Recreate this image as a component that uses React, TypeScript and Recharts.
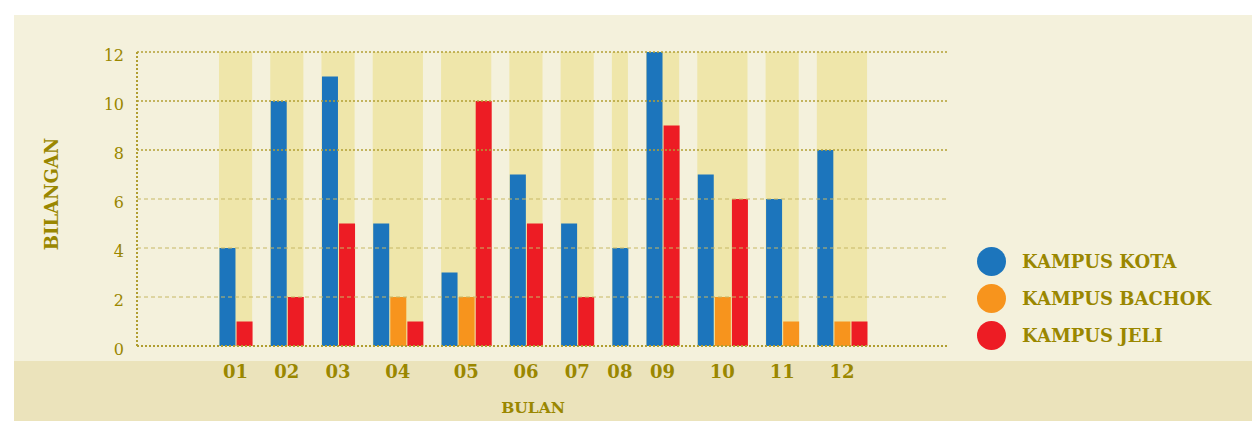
import { BarChart, Bar, XAxis, YAxis, ReferenceArea, ReferenceLine, Legend, Label } from 'recharts'

const months = ['01', '02', '03', '04', '05', '06', '07', '08', '09', '10', '11', '12']
const kampusKota = [4, 10, 11, 5, 3, 7, 5, 4, 12, 7, 6, 8]
const kampusBachok = [0, 0, 0, 2, 2, 0, 0, 0, 0, 2, 1, 1]
const kampusJeli = [1, 2, 5, 1, 10, 5, 2, 0, 9, 6, 0, 1]
const yTicks = [0, 2, 4, 6, 8, 10, 12]

const series = [
  { key: 'kota', name: 'KAMPUS KOTA', color: '#1c75bc', values: kampusKota },
  { key: 'bachok', name: 'KAMPUS BACHOK', color: '#f7941d', values: kampusBachok },
  { key: 'jeli', name: 'KAMPUS JELI', color: '#ed1c24', values: kampusJeli },
]

const TEXT = '#9a8700'
const FONT = '"DejaVu Serif", serif'

// only non-zero bars take a slot; months are separated by one empty slot
const rows: any[] = []
const groups: { label: string; from: number; to: number; mid: number }[] = []
let pos = 0
months.forEach((m, i) => {
  if (i > 0) pos += 1
  const from = pos
  series.forEach((s) => {
    if (s.values[i] > 0) {
      rows.push({ x: pos, [s.key]: s.values[i] })
      pos += 1
    }
  })
  const to = pos - 1
  groups.push({ label: m, from, to, mid: (from + to) / 2 })
})

const tickLabel: { [k: string]: string } = {}
groups.forEach((g) => {
  tickLabel[String(g.mid)] = g.label
})

function LegendBox() {
  return (
    <div style={{ fontFamily: FONT }}>
      {series.map((s) => (
        <div key={s.key} style={{ display: 'flex', alignItems: 'center', height: 37 }}>
          <span
            style={{ width: 29, height: 29, borderRadius: '50%', background: s.color, display: 'inline-block' }}
          />
          <span style={{ marginLeft: 16, color: TEXT, fontWeight: 'bold', fontSize: 18 }}>{s.name}</span>
        </div>
      ))}
    </div>
  )
}

export default function App() {
  return (
    <div style={{ position: 'absolute', left: 0, top: 0, width: 1252, height: 421, background: '#fff' }}>
      <div style={{ position: 'absolute', left: 14, top: 15, width: 1238, height: 346, background: '#f4f1dc' }} />
      <div style={{ position: 'absolute', left: 14, top: 361, width: 1238, height: 60, background: '#ebe3bb' }} />
      <div style={{ position: 'absolute', left: 0, top: 0 }}>
        <BarChart
          width={1252}
          height={421}
          data={rows}
          margin={{ top: 52, right: 45, bottom: 0, left: 0 }}
          barSize={16}
          style={{ fontFamily: FONT }}
        >
          {groups.map((g) => (
            <ReferenceArea
              key={g.label}
              x1={g.from - 0.47}
              x2={g.to + 0.47}
              y1={0}
              y2={12}
              fill="#efe6aa"
              fillOpacity={1}
              stroke="none"
            />
          ))}
          {yTicks.slice(1).map((t) => (
            <ReferenceLine
              key={t}
              y={t}
              stroke={t >= 8 ? '#b3a035' : '#c7b865'}
              strokeWidth={t >= 8 ? 1.5 : 1}
              strokeDasharray={t >= 8 ? '2 2' : '4 3'}
            />
          ))}
          <XAxis
            dataKey="x"
            type="number"
            domain={[-5.27, 42.15]}
            ticks={groups.map((g) => g.mid)}
            tickFormatter={(v) => tickLabel[String(v)]}
            height={75}
            tickSize={0}
            tickMargin={19}
            axisLine={{ stroke: '#b09e30', strokeDasharray: '2 2', strokeWidth: 2 }}
            tick={{ fill: TEXT, fontSize: 18, fontWeight: 'bold' }}
            interval={0}
            allowDataOverflow
          >
            <Label
              value="BULAN"
              position="insideBottom"
              offset={8}
              dx={-9}
              fill={TEXT}
              fontSize={15.5}
              fontWeight="bold"
            />
          </XAxis>
          <YAxis
            domain={[0, 12]}
            ticks={yTicks}
            width={137}
            tickSize={0}
            tickMargin={13}
            axisLine={{ stroke: '#b09e30', strokeDasharray: '2 2', strokeWidth: 2 }}
            tick={{ fill: TEXT, fontSize: 16, dy: 3 }}
          >
            <Label
              value="BILANGAN"
              angle={-90}
              position="insideLeft"
              offset={52}
              dy={-5}
              textAnchor="middle"
              fill={TEXT}
              fontSize={18}
              fontWeight="bold"
            />
          </YAxis>
          <Legend
            layout="vertical"
            verticalAlign="top"
            align="right"
            wrapperStyle={{ left: 977, top: 243, width: 260 }}
            content={() => <LegendBox />}
          />
          {series.map((s) => (
            <Bar
              key={s.key}
              dataKey={s.key}
              name={s.name}
              stackId="a"
              fill={s.color}
              isAnimationActive={false}
            />
          ))}
        </BarChart>
      </div>
    </div>
  )
}
